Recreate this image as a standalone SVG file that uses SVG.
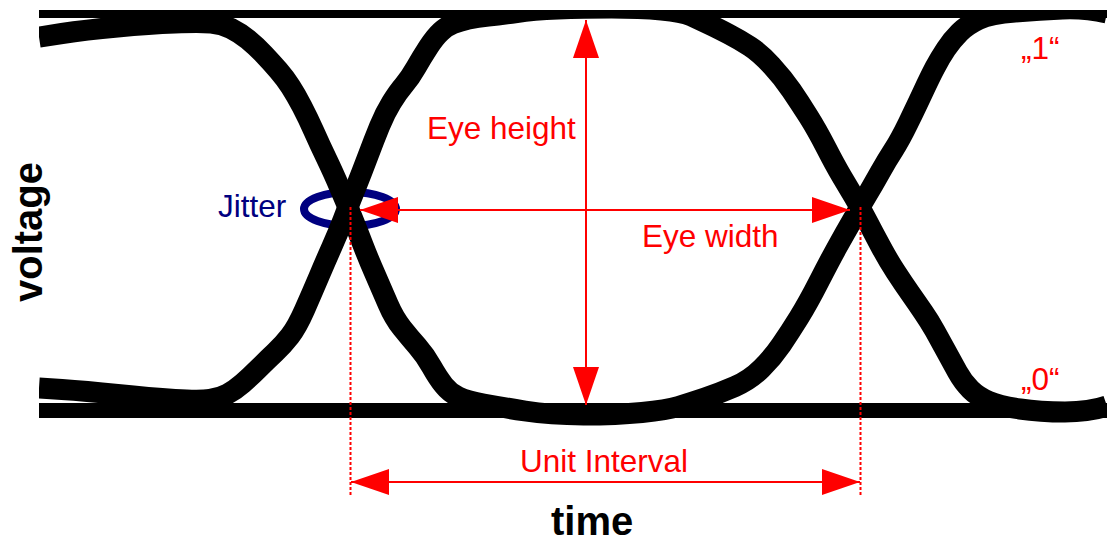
<svg xmlns="http://www.w3.org/2000/svg" width="1107" height="544" viewBox="0 0 1107 544">
<style>
.trace{fill:none;stroke:#000;stroke-width:21;stroke-linejoin:round;stroke-linecap:butt}
.dim{stroke:#ff0000;stroke-width:2;fill:none}
.dot{stroke:#ff0000;stroke-width:2;stroke-dasharray:3 2;fill:none}
.lbl{font-family:"Liberation Sans",Arial,sans-serif;font-size:31.5px;fill:#ff0000}
.axis{font-family:"Liberation Sans",Arial,sans-serif;font-size:40px;font-weight:bold;fill:#000}
</style>
<defs>
<marker id="ah" markerUnits="userSpaceOnUse" markerWidth="38" markerHeight="26" viewBox="0 0 38 26" refX="38" refY="13" orient="auto-start-reverse">
<path d="M0,0 L38,13 L0,26 z" fill="#ff0000"/>
</marker>
<clipPath id="clip"><rect x="39" y="10" width="1068" height="534"/></clipPath>
</defs>
<rect width="1107" height="544" fill="#fff"/>
<g id="jitter-ellipse">
<ellipse cx="350" cy="209" rx="46" ry="17" fill="none" stroke="#000080" stroke-width="8"/>
</g>
<g id="rails">
<rect x="39" y="10" width="1068" height="8" fill="#000"/>
<rect x="39" y="403" width="1068" height="15" fill="#000"/>
</g>
<g id="eye-traces" clip-path="url(#clip)">
<path class="trace" d="M39,37 L62,33.5 Q85,30 117.5,27 Q150,24 175,23 Q200,22 211,23 Q222,24 231,28.5 Q240,33 248,39.5 Q256,46 264,54.5 Q272,63 278.5,70.5 Q285,78 290.5,86.5 Q296,95 302,106.5 Q308,118 314,131.5 Q320,145 326.5,158.5 Q333,172 340.5,189.5 Q348,207 353,219.5 Q358,232 363,245 Q368,258 375,274 Q382,290 388,304 Q394,318 402,328 Q410,338 417.5,346.5 Q425,355 431.5,366.5 Q438,378 444,385.5 Q450,393 458.5,397 Q467,401 483.5,404 Q500,407 525,411 Q550,415 583.5,415 Q617,415 642,412.5 Q667,410 678.5,406.5 Q690,403 705,398 Q720,393 735,386.5 Q750,380 761.5,368.5 Q773,357 781.5,344.5 Q790,332 799,317.5 Q808,303 819,281.5 Q830,260 837.5,246.5 Q845,233 852.5,220 Q860,207 866.5,196 Q873,185 880,172.5 Q887,160 893.5,150 Q900,140 908.5,122.5 Q917,105 923.5,91 Q930,77 935,67.5 Q940,58 946,49 Q952,40 959.5,32.5 Q967,25 978.5,19.5 Q990,14 1015,12 Q1040,10 1062.5,9 Q1085,8 1107,13"/>
<path class="trace" d="M39,388 L62,389.5 Q85,391 117.5,394.5 Q150,398 175,399.5 Q200,401 210,399.5 Q220,398 227.5,394 Q235,390 242.5,383.5 Q250,377 258.5,368.5 Q267,360 275,352.5 Q283,345 290,336 Q297,327 304.5,310 Q312,293 319,276.5 Q326,260 332,246.5 Q338,233 343,220 Q348,207 355,189.5 Q362,172 368,156 Q374,140 379.5,126.5 Q385,113 391.5,102.5 Q398,92 404,85 Q410,78 416,67.5 Q422,57 428.5,47 Q435,37 441,31.5 Q447,26 453.5,23.5 Q460,21 468.5,19 Q477,17 488.5,16 Q500,15 516.5,12.5 Q533,10 558,9 Q583,8 611.5,8 Q640,8 661.5,10 Q683,12 691.5,16 Q700,20 708.5,24 Q717,28 728.5,34 Q740,40 750,46.5 Q760,53 771.5,65.5 Q783,78 791.5,90.5 Q800,103 808.5,116.5 Q817,130 826,147.5 Q835,165 841.5,176 Q848,187 854,197 Q860,207 866.5,219.5 Q873,232 880.5,246 Q888,260 895.5,271.5 Q903,283 910,293 Q917,303 923.5,312.5 Q930,322 935,331 Q940,340 946,351 Q952,362 957.5,372 Q963,382 970.5,389.5 Q978,397 989,401.5 Q1000,406 1020,409 Q1040,412 1065,412 Q1090,412 1107,406"/>
</g>
<g id="connectors">
<line class="dim" x1="586" y1="20" x2="586" y2="405" marker-start="url(#ah)" marker-end="url(#ah)"/>
<line class="dim" x1="360" y1="210" x2="850" y2="210" marker-start="url(#ah)" marker-end="url(#ah)"/>
<line class="dim" x1="351" y1="482" x2="860" y2="482" marker-start="url(#ah)" marker-end="url(#ah)"/>
<line class="dot" x1="350.5" y1="207" x2="350.5" y2="497"/>
<line class="dot" x1="860.5" y1="207" x2="860.5" y2="497"/>
</g>
<g id="labels">
<text class="lbl" x="218" y="217" style="fill:#000080">Jitter</text>
<text class="lbl" x="427" y="139">Eye height</text>
<text class="lbl" x="642" y="247">Eye width</text>
<text class="lbl" x="520" y="472">Unit Interval</text>
<text class="lbl" x="1021" y="59">„1“</text>
<text class="lbl" x="1021" y="390">„0“</text>
<text class="axis" x="551" y="535">time</text>
<text class="axis" transform="translate(42,232) rotate(-90)" text-anchor="middle">voltage</text>
</g>
</svg>
